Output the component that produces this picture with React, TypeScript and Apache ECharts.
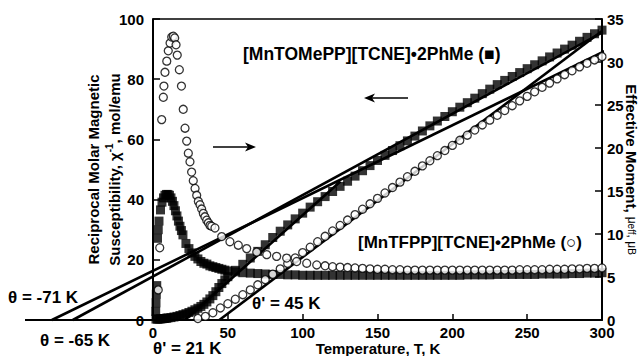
import React, { useEffect, useRef } from "react";
import * as echarts from "echarts";

// ---------- data ----------
// [MnTOMePP][TCNE]·2PhMe (filled squares) — reciprocal susceptibility (left axis)
const SQ_CHI_T = [2, 3, 4, 5, 6, 7, 8, 9, 10, 12, 14, 16, 18, 20, 22, 24, 26, 28, 30, 32, 34, 36, 38, 40, 42, 44, 46, 48, 50,
  55, 60, 65, 70, 75, 80, 85, 90, 95, 100, 105, 110, 115, 120, 125, 130, 135, 140, 145, 150, 155, 160, 165, 170, 175,
  180, 185, 190, 195, 200, 205, 210, 215, 220, 225, 230, 235, 240, 245, 250, 255, 260, 265, 270, 275, 280, 285, 290, 295, 300];
const SQ_CHI = [0.3, 0.3, 0.3, 0.4, 0.4, 0.5, 0.5, 0.6, 0.7, 0.8, 1.0, 1.2, 1.5, 1.8, 2.1, 2.5, 2.9, 3.4, 3.9, 4.5, 5.2, 6.0, 7.0, 8.1, 9.4, 10.8, 12.1, 13.3, 14.4,
  16.5, 18.5, 20.6, 22.8, 25.0, 27.4, 29.5, 31.6, 33.6, 35.5, 37.5, 39.3, 41.0, 42.7, 44.4, 46.1, 47.8, 49.6, 51.3, 53.0, 54.7, 56.3, 57.9, 59.5, 61.1,
  62.8, 64.5, 66.1, 67.6, 69.2, 70.7, 72.2, 73.7, 75.2, 76.7, 78.2, 79.6, 80.9, 82.2, 83.5, 84.8, 86.1, 87.4, 88.7, 90.0, 91.3, 92.6, 93.9, 95.1, 96.3];

// squares — effective moment (right axis)
const SQ_MU_T = [1.8, 2.0, 2.2, 2.5, 3.0, 3.5, 4, 5, 6, 7, 8, 9, 10, 11, 12, 13, 14, 15, 16, 17, 18, 19, 20, 22, 24, 26, 28, 30, 32, 34, 36, 38, 40, 42, 44, 46, 48, 50,
  55, 60, 65, 70, 75, 80, 85, 90, 95, 100, 105, 110, 115, 120, 125, 130, 135, 140, 145, 150, 155, 160, 165, 170, 175,
  180, 185, 190, 195, 200, 205, 210, 215, 220, 225, 230, 235, 240, 245, 250, 255, 260, 265, 270, 275, 280, 285, 290, 295, 300];
const SQ_MU = [1.0, 2.0, 3.0, 4.0, 9.5, 10.5, 11.5, 12.8, 13.7, 14.2, 14.5, 14.6, 14.6, 14.5, 14.2, 13.8, 13.3, 12.7, 12.1, 11.5, 10.9, 10.4, 9.9, 8.9, 8.3, 7.8, 7.4, 7.1, 6.8, 6.6, 6.5, 6.3, 6.2, 6.1, 6.0, 5.9, 5.8, 5.7,
  5.6, 5.5, 5.45, 5.4, 5.35, 5.3, 5.3, 5.25, 5.25, 5.2, 5.2, 5.2, 5.2, 5.2, 5.2, 5.2, 5.2, 5.2, 5.2, 5.2, 5.2, 5.2, 5.2, 5.2, 5.2,
  5.2, 5.2, 5.2, 5.2, 5.2, 5.2, 5.25, 5.25, 5.25, 5.25, 5.3, 5.3, 5.3, 5.3, 5.3, 5.3, 5.35, 5.35, 5.35, 5.35, 5.4, 5.4, 5.45, 5.45, 5.5];

// [MnTFPP][TCNE]·2PhMe (open circles) — reciprocal susceptibility (left axis)
const CI_CHI_T = [30, 35, 40, 45, 50, 55, 60, 65, 70, 75, 80, 85, 90, 95, 100, 105, 110, 115, 120, 125, 130, 135, 140, 145, 150, 155,
  160, 165, 170, 175, 180, 185, 190, 195, 200, 205, 210, 215, 220, 225, 230, 235, 240, 245, 250, 255, 260, 265, 270, 275, 280, 285, 290, 295, 300];
const CI_CHI = [0.5, 1.2, 2.4, 4.0, 5.4, 6.9, 8.4, 10.0, 11.7, 13.4, 15.2, 17.0, 18.8, 20.6, 22.4, 24.2, 26.0, 27.8, 29.6, 31.4, 33.2, 35.0, 36.8, 38.6, 40.4, 42.2,
  44.0, 45.8, 47.6, 49.4, 51.2, 52.9, 54.6, 56.3, 58.0, 59.7, 61.4, 63.1, 64.8, 66.4, 68.0, 69.6, 71.2, 72.8, 74.3, 75.8, 77.3, 78.7, 80.1, 81.5, 82.8, 84.1, 85.3, 86.4, 87.5];

// circles — effective moment (right axis)
const CI_MU_T = [3.5, 4.5, 5.8, 6.9, 7.3, 8.0, 9.2, 10.2, 11.4, 12.5, 13.6, 14.5, 15.4, 16.2, 17.6, 19.0, 20.2, 21.4, 22.5, 23.6, 24.7, 25.8, 26.9, 28.1,
  29.2, 30.3, 31.4, 32.5, 33.6, 34.7, 35.9, 37.0, 38.1, 39.2, 41.4, 45.9, 51.4, 57.0, 62.6, 69.3, 76.0, 82.6, 89.3, 96.0, 102.7, 109.4,
  115, 120, 125, 130, 135, 140, 145, 150, 155, 160, 165, 170, 175, 180, 185, 190, 195, 200, 205, 210, 215, 220, 225, 230, 235, 240,
  245, 250, 255, 260, 265, 270, 275, 280, 285, 290, 295, 300];
const CI_MU = [3.5, 8.4, 23.3, 25.9, 27.2, 28.8, 30.1, 31.3, 32.2, 32.9, 33.0, 32.8, 32.0, 30.8, 29.1, 27.2, 24.5, 22.3, 20.8, 19.4, 18.4, 17.2, 16.2, 15.3,
  14.5, 13.8, 13.4, 12.9, 12.4, 12.0, 11.6, 11.3, 11.0, 10.9, 10.7, 9.7, 9.1, 8.7, 8.3, 7.9, 7.6, 7.4, 7.2, 6.8, 6.6, 6.4,
  6.3, 6.2, 6.15, 6.1, 6.05, 6.0, 5.95, 5.9, 5.9, 5.85, 5.85, 5.8, 5.8, 5.8, 5.8, 5.8, 5.8, 5.8, 5.8, 5.8, 5.8, 5.8, 5.8, 5.8, 5.8, 5.8,
  5.85, 5.85, 5.85, 5.85, 5.9, 5.9, 5.9, 5.95, 5.95, 6.0, 6.0, 6.05];

// Curie–Weiss fit lines (left-axis units, drawn on the extended T axis)
const FIT_M71_T = [-68, 303];
const FIT_M71 = [0, 89.6];
const FIT_M65_T = [-54, 300];
const FIT_M65 = [0, 95.5];
const FIT_P45_T = [44, 300];
const FIT_P45 = [0, 96];
const FIT_P21_T = [21, 125];
const FIT_P21 = [0, 46];

// frame pieces: top border and the baseline continued to negative T
const BORDER_T = [0, 300];
const BORDER_V = [100, 100];
const BASE_T = [-86, 0];
const BASE_V = [0, 0];

const FONT = '"Liberation Sans", Arial, Helvetica, sans-serif';

const zip = (xs: number[], ys: number[]) => xs.map((x, i) => [x, ys[i]]);

export default function App() {
  const ref = useRef<HTMLDivElement>(null);
  useEffect(() => {
    if (!ref.current) return;
    const chart = echarts.init(ref.current, null, { renderer: "svg" });
    const axisLine = { color: "#000", width: 2 };
    const tickStyle = { color: "#000", width: 1.5 };
    const labelStyle = { color: "#000", fontWeight: "bold", fontSize: 15, fontFamily: FONT };
    // lines on the extended grid (xAxis 1, yAxis 2), which spans T = -86…300
    const extLine = (t: number[], v: number[], width: number, z: number) => ({
      type: "line",
      xAxisIndex: 1,
      yAxisIndex: 2,
      data: zip(t, v),
      symbol: "none",
      clip: false,
      silent: true,
      lineStyle: { color: "#000", width },
      z,
    });
    const txt = (x: number, y: number, text: string, size: number, align = "left") => ({
      type: "text",
      x,
      y,
      z: 10,
      style: { text, font: `bold ${size}px ${FONT}`, fill: "#000", align, verticalAlign: "middle" },
    });
    const option: any = {
      animation: false,
      backgroundColor: "#fff",
      textStyle: { fontFamily: FONT },
      grid: [
        { left: 153, right: 41, top: 19, bottom: 36, containLabel: false, outerBoundsMode: "none" },
        { left: 25, right: 41, top: 19, bottom: 36, containLabel: false, outerBoundsMode: "none" },
      ],
      xAxis: [
        {
          type: "value",
          gridIndex: 0,
          min: 0,
          max: 300,
          interval: 50,
          axisLine: { show: true, onZero: false, lineStyle: axisLine },
          axisTick: { show: true, inside: true, length: 6, lineStyle: tickStyle },
          axisLabel: { margin: 5, ...labelStyle },
          splitLine: { show: false },
        },
        {
          type: "value",
          gridIndex: 1,
          min: -86,
          max: 300,
          show: false,
          splitLine: { show: false },
        },
      ],
      yAxis: [
        {
          type: "value",
          gridIndex: 0,
          min: 0,
          max: 100,
          interval: 20,
          axisLine: { show: true, onZero: false, lineStyle: axisLine },
          axisTick: { show: true, inside: true, length: 7, lineStyle: tickStyle },
          axisLabel: { margin: 9, ...labelStyle },
          splitLine: { show: false },
          name: "Reciprocal Molar Magnetic\nSusceptibility, χ{sup|-1}, mol/emu",
          nameLocation: "middle",
          nameGap: 28,
          nameMoveOverlap: false,
          nameTextStyle: {
            color: "#000",
            fontWeight: "bold",
            fontSize: 15,
            fontFamily: FONT,
            lineHeight: 21,
            rich: { sup: { fontSize: 10, fontWeight: "bold", verticalAlign: "top", fontFamily: FONT, color: "#000" } },
          },
        },
        {
          type: "value",
          gridIndex: 0,
          min: 0,
          max: 35,
          interval: 5,
          position: "right",
          axisLine: { show: true, onZero: false, lineStyle: axisLine },
          axisTick: { show: true, inside: true, length: 7, lineStyle: tickStyle },
          axisLabel: { margin: 5, ...labelStyle },
          splitLine: { show: false },
          name: "{a|Effective Moment, }{b|μ}{c|eff}{b|, μ}{c|B}",
          nameLocation: "middle",
          nameRotate: -90,
          nameGap: 22,
          nameMoveOverlap: false,
          nameTextStyle: {
            color: "#000",
            rich: {
              a: { fontSize: 15, fontWeight: "bold", fontFamily: FONT, color: "#000" },
              b: { fontSize: 12, fontFamily: FONT, color: "#000" },
              c: { fontSize: 10, fontFamily: FONT, color: "#000" },
            },
          },
        },
        {
          type: "value",
          gridIndex: 1,
          min: 0,
          max: 100,
          show: false,
          splitLine: { show: false },
        },
      ],
      series: [
        extLine(BORDER_T, BORDER_V, 1.6, 1),
        extLine(BASE_T, BASE_V, 2, 1),
        extLine(FIT_M71_T, FIT_M71, 2.6, 2),
        extLine(FIT_M65_T, FIT_M65, 2.6, 2),
        extLine(FIT_P45_T, FIT_P45, 2.6, 2),
        extLine(FIT_P21_T, FIT_P21, 2.6, 2),
        {
          type: "scatter",
          xAxisIndex: 0,
          yAxisIndex: 0,
          data: zip(SQ_CHI_T, SQ_CHI),
          symbol: "rect",
          symbolSize: 9,
          itemStyle: { color: "#000" },
          z: 3,
        },
        {
          type: "scatter",
          xAxisIndex: 0,
          yAxisIndex: 1,
          data: zip(SQ_MU_T, SQ_MU),
          symbol: "rect",
          symbolSize: 9,
          itemStyle: { color: "#000" },
          z: 3,
        },
        {
          type: "scatter",
          xAxisIndex: 0,
          yAxisIndex: 0,
          data: zip(CI_CHI_T, CI_CHI),
          symbol: "circle",
          symbolSize: 8,
          itemStyle: { color: "#fff", borderColor: "#000", borderWidth: 1.3 },
          z: 4,
        },
        {
          type: "scatter",
          xAxisIndex: 0,
          yAxisIndex: 1,
          data: zip(CI_MU_T, CI_MU),
          symbol: "circle",
          symbolSize: 8,
          itemStyle: { color: "#fff", borderColor: "#000", borderWidth: 1.3 },
          z: 4,
        },
      ],
      graphic: [
        txt(8, 297, "θ = -71 K", 17),
        txt(40, 340, "θ = -65 K", 17),
        txt(153, 348, "θ' = 21 K", 17),
        txt(252, 303, "θ' = 45 K", 17),
        txt(243, 54, "[MnTOMePP][TCNE]•2PhMe (■)", 17.5),
        txt(358, 242, "[MnTFPP][TCNE]•2PhMe (○)", 17),
        txt(378, 348.5, "Temperature, T, K", 15, "center"),
        { type: "line", z: 10, shape: { x1: 370, y1: 98, x2: 408, y2: 98 }, style: { stroke: "#000", lineWidth: 1.5 } },
        { type: "polygon", z: 10, shape: { points: [[364, 98], [375, 93.5], [372, 98], [375, 102.5]] }, style: { fill: "#000" } },
        { type: "line", z: 10, shape: { x1: 213, y1: 147, x2: 250, y2: 147 }, style: { stroke: "#000", lineWidth: 1.5 } },
        { type: "polygon", z: 10, shape: { points: [[256, 147], [245, 142.5], [248, 147], [245, 151.5]] }, style: { fill: "#000" } },
      ],
    };
    chart.setOption(option);
    return () => chart.dispose();
  }, []);
  return (
    <div
      ref={ref}
      style={{ position: "fixed", left: 0, top: 0, width: 643, height: 356, background: "#fff" }}
    />
  );
}
